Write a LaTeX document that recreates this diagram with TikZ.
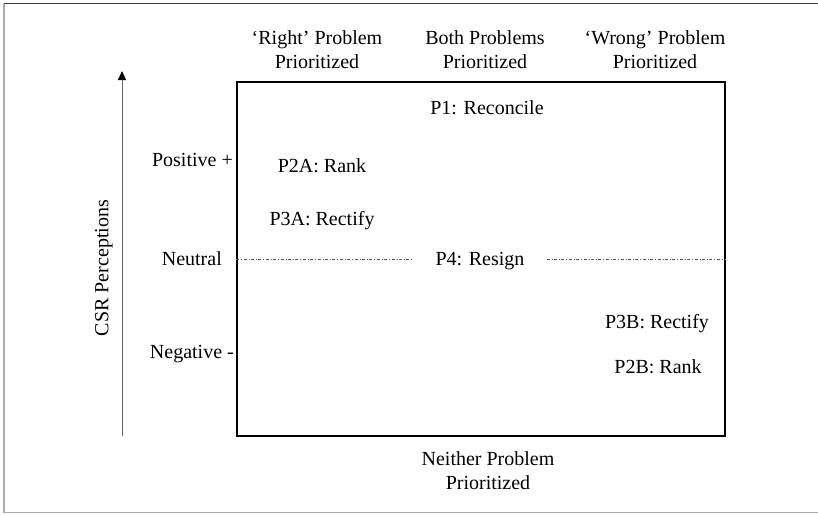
\documentclass[tikz,border=0pt]{standalone}
\usepackage{fontspec}
\setmainfont{Liberation Serif}
\usetikzlibrary{arrows.meta}

\tikzstyle{label} = [text centered, align=center, inner sep=0pt, font=\fontsize{20}{24}\selectfont]
\tikzstyle{level} = [label, anchor=east]
\tikzstyle{grid} = [draw, rectangle, line width=1.6pt, minimum width=488pt, minimum height=354pt, inner sep=0pt]
\tikzstyle{midline} = [draw, dash dot, line width=0.6pt, gray!70!black]
\tikzstyle{axis} = [draw, line width=1pt, gray!80!black, -{Triangle[length=9pt, width=8pt, fill=black, color=black]}]
\definecolor{frame1}{RGB}{60,60,60}
\definecolor{frame2}{RGB}{170,170,170}

\begin{document}
\begin{tikzpicture}[x=1pt, y=-1pt]
	\useasboundingbox (0,0) rectangle (818,514);
	% outer frame
	\draw [frame1, line width=1.5pt] (818,3.5) -- (4,3.5);
	\draw [frame2, line width=1.5pt] (4,3.5) -- (4,512.5) -- (818,512.5);

	\node [grid] (grid) at (481,259) {};

	% Headings
	\node [label] (right) at (317,50) {‘Right’ Problem\\Prioritized};
	\node [label] (both) at (485,50) {Both Problems\\Prioritized};
	\node [label] (wrong) at (655,50) {‘Wrong’ Problem\\Prioritized};
	\node [label] (neither) at (488,471) {Neither Problem\\Prioritized};

	% Levels
	\node [level] (positive) at (233,160) {Positive +};
	\node [level] (neutral) at (222,259) {Neutral};
	\node [level] (negative) at (234,354) {Negative -};

	% Axis
	\coordinate (axisbottom) at (122,436);
	\coordinate (axistop) at (122,71);
	\draw [axis] (axisbottom) to (axistop);
	\node [label, rotate=90] (csr) at (104,268) {CSR Perceptions};

	% Cells
	\node [label] (reconcile) at (487,108) {P1: Reconcile};
	\node [label] (ranka) at (322,166) {P2A: Rank};
	\node [label] (rectifya) at (322,221) {P3A: Rectify};
	\node [label, inner xsep=22pt] (resign) at (480,261) {P4: Resign};
	\node [label] (rectifyb) at (657,324) {P3B: Rectify};
	\node [label] (rankb) at (658,367) {P2B: Rank};

	\draw [midline] (grid.west) to (resign.west |- grid.west);
	\draw [midline] (resign.east |- grid.east) to (grid.east);
\end{tikzpicture}
\end{document}
